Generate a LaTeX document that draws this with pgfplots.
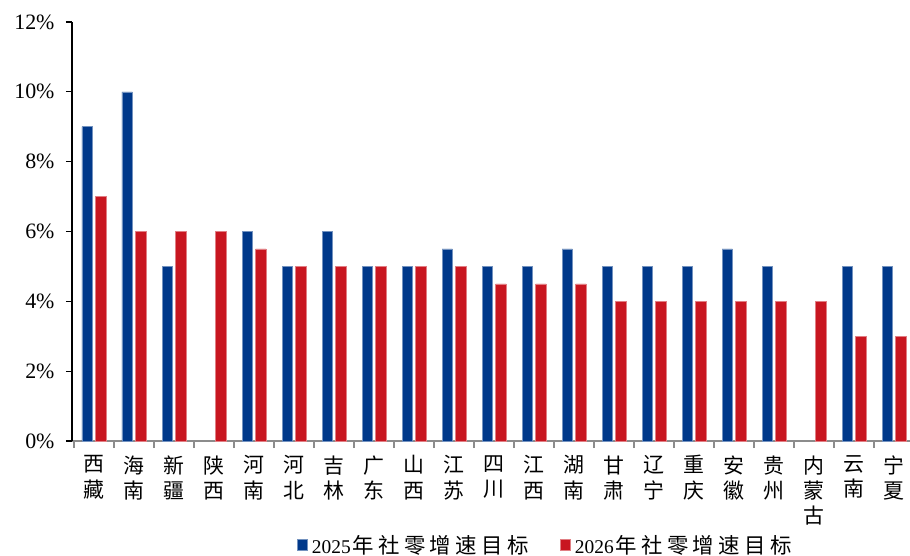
\documentclass[border=0pt]{standalone}
\usepackage{fontspec}
\setmainfont{Liberation Serif}
\newfontfamily\cjk{Noto Sans CJK SC}
\newfontfamily\cjkls[LetterSpace=20]{Noto Sans CJK SC}
\usepackage{pgfplots}
\pgfplotsset{compat=1.18}
\definecolor{barblue}{RGB}{0,56,138}
\definecolor{barred}{RGB}{200,22,32}
\definecolor{axisgray}{RGB}{140,140,140}

\begin{document}
\begin{tikzpicture}
\useasboundingbox (-72bp,-115bp) rectangle (838bp,441bp);
\begin{axis}[
  width=838bp, height=419bp, scale only axis,
  xmin=-0.55, xmax=20.4, ymin=0, ymax=12,
  axis x line*=bottom, axis y line*=left,
  x axis line style={axisgray, line width=1.5bp, -},
  y axis line style={black, line width=1.3bp, -},
  ytick={0,2,...,12},
  yticklabel={\pgfmathprintnumber{\tick}\%},
  /pgf/number format/assume math mode=true,
  yticklabel style={font=\fontsize{22}{26}\selectfont, xshift=-8bp},
  tick align=outside,
  major tick length=6bp,
  minor tick length=7bp,
  y tick style={black, line width=1.2bp},
  xtick={0,...,20},
  xticklabels={{西\\藏},{海\\南},{新\\疆},{陕\\西},{河\\南},{河\\北},{吉\\林},
    {广\\东},{山\\西},{江\\苏},{四\\川},{江\\西},{湖\\南},{甘\\肃},{辽\\宁},
    {重\\庆},{安\\徽},{贵\\州},{内\\蒙\\古},{云\\南},{宁\\夏}},
  major x tick style={draw=none},
  minor xtick={-0.5,0.5,...,19.5},
  minor x tick style={axisgray, line width=1.5bp},
  xticklabel style={font=\cjk\fontsize{21}{25.5}\selectfont, align=center, yshift=-5bp},
  ybar, bar width=0.26,
  legend image code/.code={\fill[#1] (0bp,-5bp) rectangle (10bp,6bp);},
  legend columns=2,
  legend style={at={(0.565,-0.248)}, anchor=center, draw=none, fill=none,
    font=\fontsize{19.5}{24}\selectfont,
    /tikz/every even column/.append style={column sep=30bp}},
]
% 2025 target growth of retail sales (no target listed for 陕西 and 内蒙古)
\addplot[fill=barblue, draw=barblue!55!white, line width=0.5bp, bar shift=-0.17]
  coordinates {(0,9) (1,10) (2,5) (4,6) (5,5) (6,6) (7,5) (8,5) (9,5.5) (10,5)
    (11,5) (12,5.5) (13,5) (14,5) (15,5) (16,5.5) (17,5) (19,5) (20,5)};
\addlegendentry{\hspace{2bp}2025\hspace{2bp}{\cjkls\fontsize{21.5}{24}\selectfont 年社零增速目标}}
% 2026 target growth of retail sales
\addplot[fill=barred, draw=barred!55!white, line width=0.5bp, bar shift=0.17]
  coordinates {(0,7) (1,6) (2,6) (3,6) (4,5.5) (5,5) (6,5) (7,5) (8,5) (9,5)
    (10,4.5) (11,4.5) (12,4.5) (13,4) (14,4) (15,4) (16,4) (17,4) (18,4) (19,3) (20,3)};
\addlegendentry{\hspace{2bp}2026\hspace{2bp}{\cjkls\fontsize{21.5}{24}\selectfont 年社零增速目标}}
\end{axis}
\end{tikzpicture}
\end{document}
